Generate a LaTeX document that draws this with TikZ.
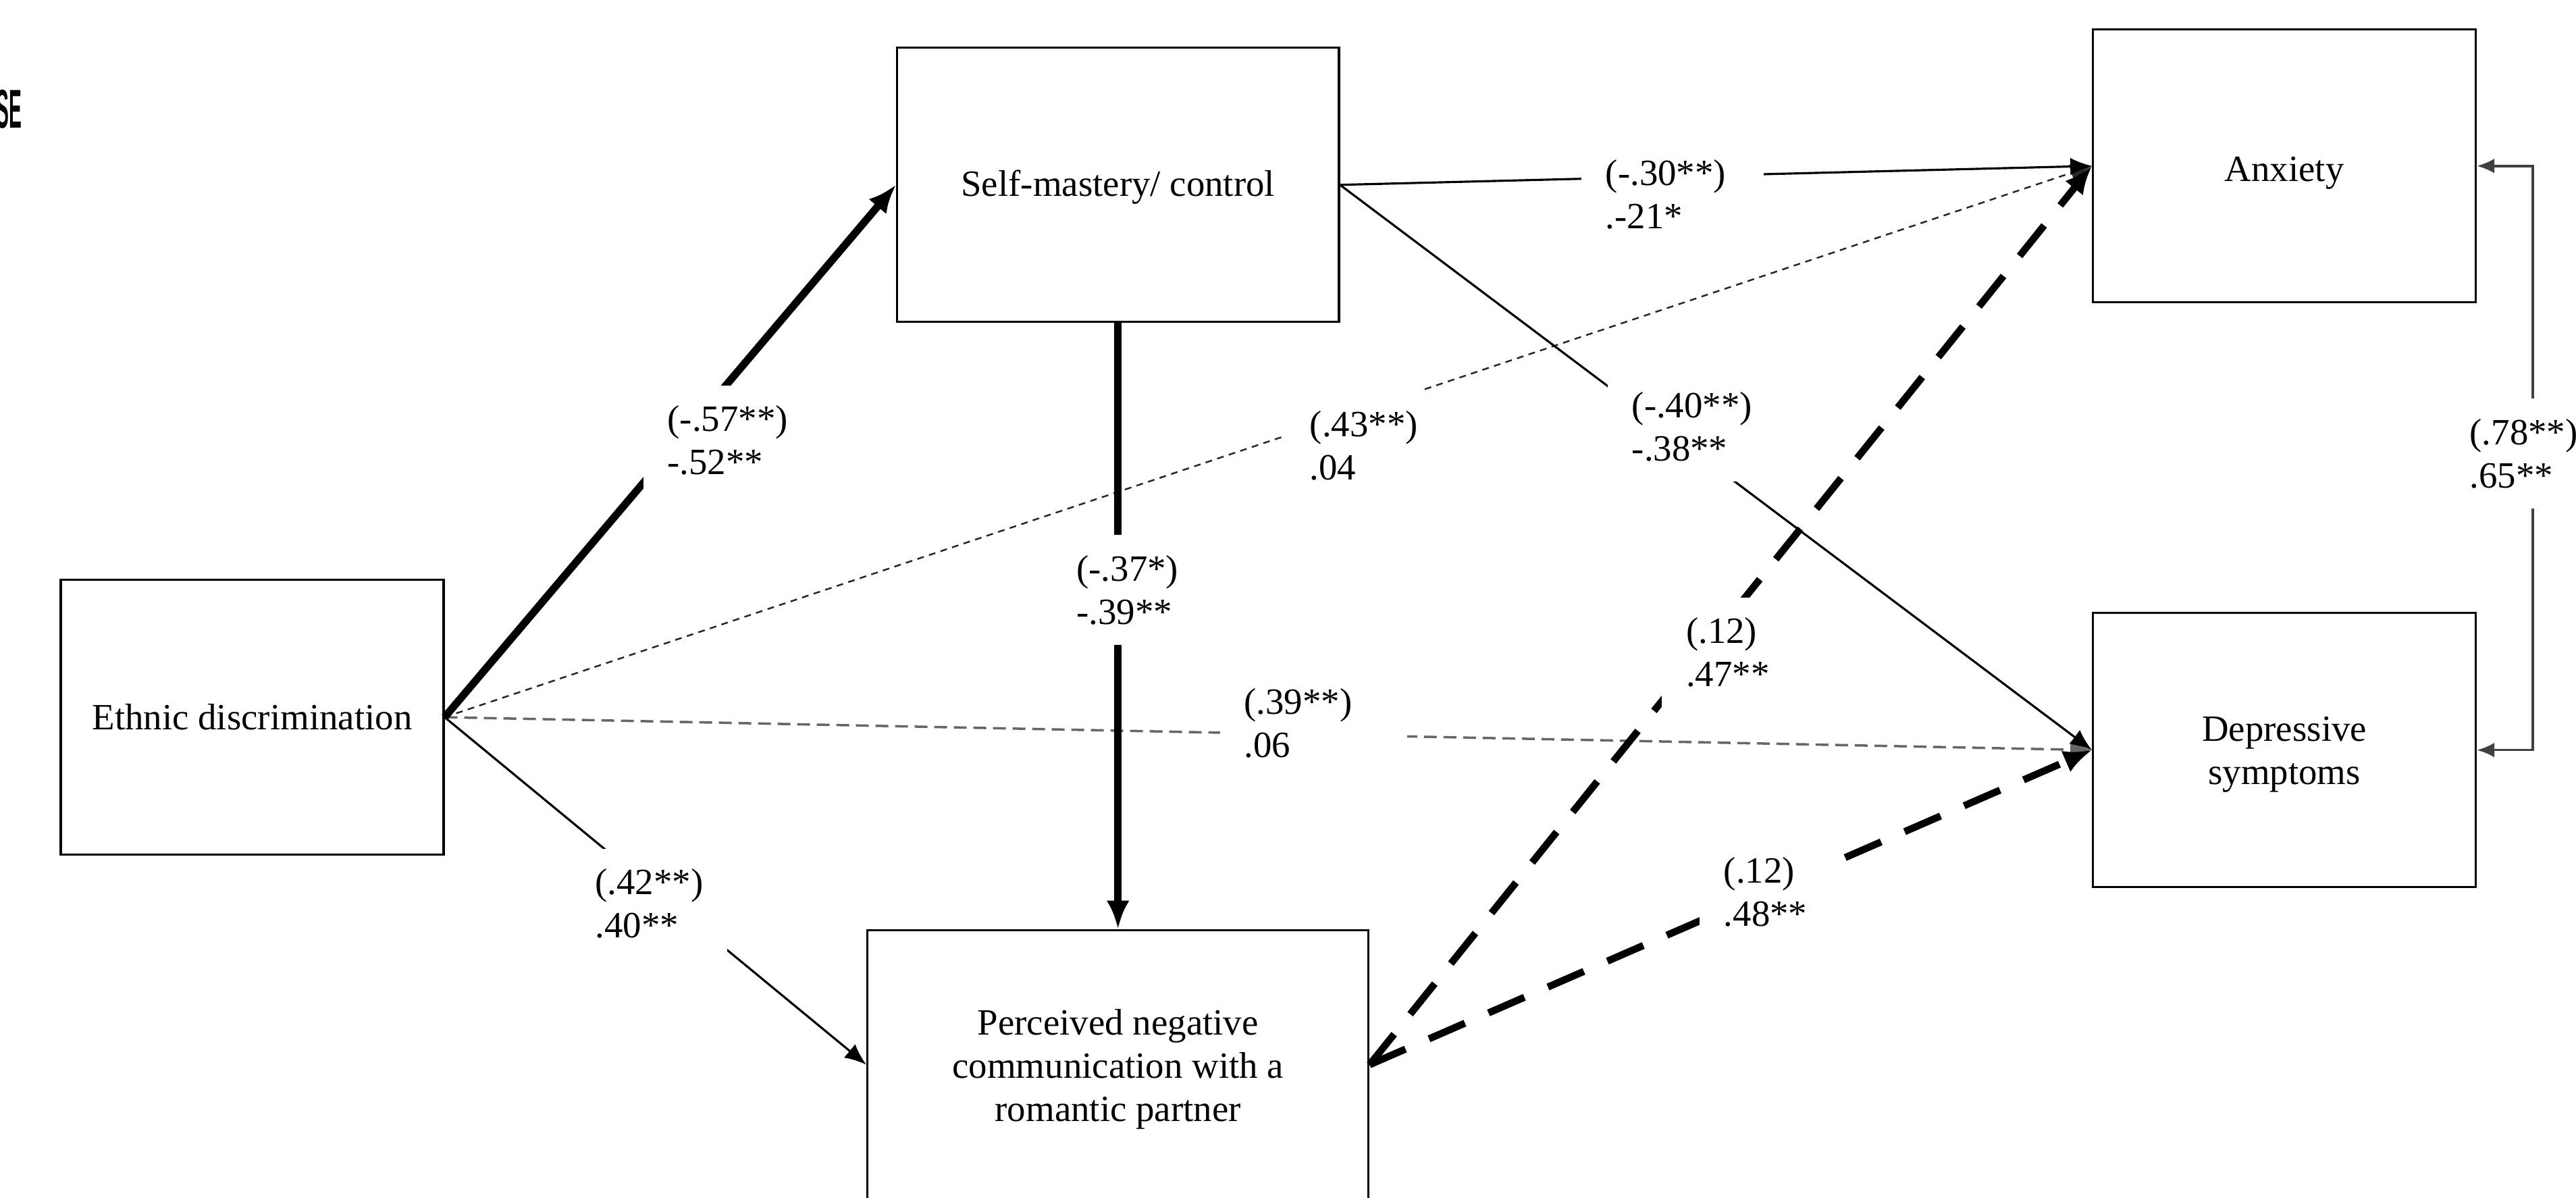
\documentclass[tikz,border=0pt]{standalone}
\usepackage{graphicx}
\usepackage{fontspec}
\setmainfont{Liberation Serif}
\newfontfamily\headfont{Liberation Sans}
\usetikzlibrary{arrows.meta}
\newcommand\pxu{0.02433cm}
\begin{document}
\begin{tikzpicture}[x=0.02433cm, y=-0.02433cm,
  font=\fontsize{15.6}{18.2}\selectfont,
  box/.style={draw=black, line width=0.9pt, align=center, inner sep=0pt},
  thinarrow/.style={line width=0.9pt, -{Latex[length=0.32cm,width=0.26cm]}},
  thickarrow/.style={line width=3.2pt, -{Latex[length=0.42cm,width=0.34cm]}},
  thickdash/.style={line width=3pt, dash pattern=on 0.58cm off 0.38cm, -{Latex[length=0.42cm,width=0.34cm]}},
  finedash/.style={line width=0.7pt, black!85, dash pattern=on 0.1cm off 0.08cm, -{Latex[length=0.32cm,width=0.26cm]}},
  graydash/.style={line width=1pt, black!60, dash pattern=on 0.19cm off 0.1cm, -{Latex[length=0.32cm,width=0.26cm]}},
  corr/.style={line width=1pt, black!75, {Latex[length=0.26cm,width=0.22cm]}-{Latex[length=0.26cm,width=0.22cm]}},
  lbl/.style={fill=white, align=left, inner xsep=0.36cm, inner ysep=0.3cm, anchor=west, xshift=-0.36cm},
]
\useasboundingbox (0,0) rectangle (1568,729);
\clip (0,0) rectangle (1568,729);
\fill[white] (0,0) rectangle (1568,729);

\node[anchor=base east, inner sep=0pt] (se) at (13.5,78) {\scalebox{0.35}[1]{\headfont\bfseries\fontsize{23}{23}\selectfont SE}};

\node[box, minimum width=233*\pxu, minimum height=167*\pxu] (ED) at (153.5,436.5) {Ethnic discrimination};
\node[box, minimum width=269*\pxu, minimum height=167*\pxu, text height=13pt] (SM) at (680.5,112.5) {Self-mastery/ control};
\node[box, minimum width=305*\pxu, minimum height=164*\pxu, text height=51pt] (PNC) at (680.5,648) {Perceived negative\\communication with a\\romantic partner};
\node[box, minimum width=233*\pxu, minimum height=166*\pxu, text depth=0pt, text height=13pt] (Anx) at (1390.5,101) {Anxiety};
\node[box, minimum width=233*\pxu, minimum height=167*\pxu, text height=32.5pt] (DS) at (1390.5,456.5) {Depressive\\symptoms};

\draw[graydash] (ED.east) -- (DS.west);
\draw[finedash] (ED.east) -- (Anx.west);
\draw[thinarrow] (ED.east) -- (PNC.west);
\draw[thickarrow] (ED.east) -- (SM.west);
\draw[thickarrow] (SM.south) -- (PNC.north);
\draw[thinarrow] (SM.east) -- (Anx.west);
\draw[thinarrow] (SM.east) -- (DS.west);
\draw[thickdash] (PNC.east) -- (Anx.west);
\draw[thickdash] (PNC.east) -- (DS.west);
\draw[corr] (Anx.east) -- ([xshift=34*\pxu]Anx.east) |- (DS.east);

\node[lbl] (l57) at (406,268) {(-.57**)\\-.52**};
\node[lbl] (l43) at (797,271) {(.43**)\\.04};
\node[lbl] (l37) at (655,359) {(-.37*)\\-.39**};
\node[lbl] (l40) at (993,259.5) {(-.40**)\\-.38**};
\node[lbl] (l30) at (977,118.5) {(-.30**)\hspace*{0.2cm}\\.-21*};
\node[lbl] (l39) at (757,440) {(.39**)\hspace*{0.45cm}\\.06};
\node[lbl] (l12a) at (1026,397) {(.12)\\.47**};
\node[lbl] (l12b) at (1049,543) {(.12)\\.48**};
\node[lbl] (l42) at (362,550) {(.42**)\\.40**};
\node[lbl] (l78) at (1503,276) {(.78**)\\.65**};
\end{tikzpicture}
\end{document}
